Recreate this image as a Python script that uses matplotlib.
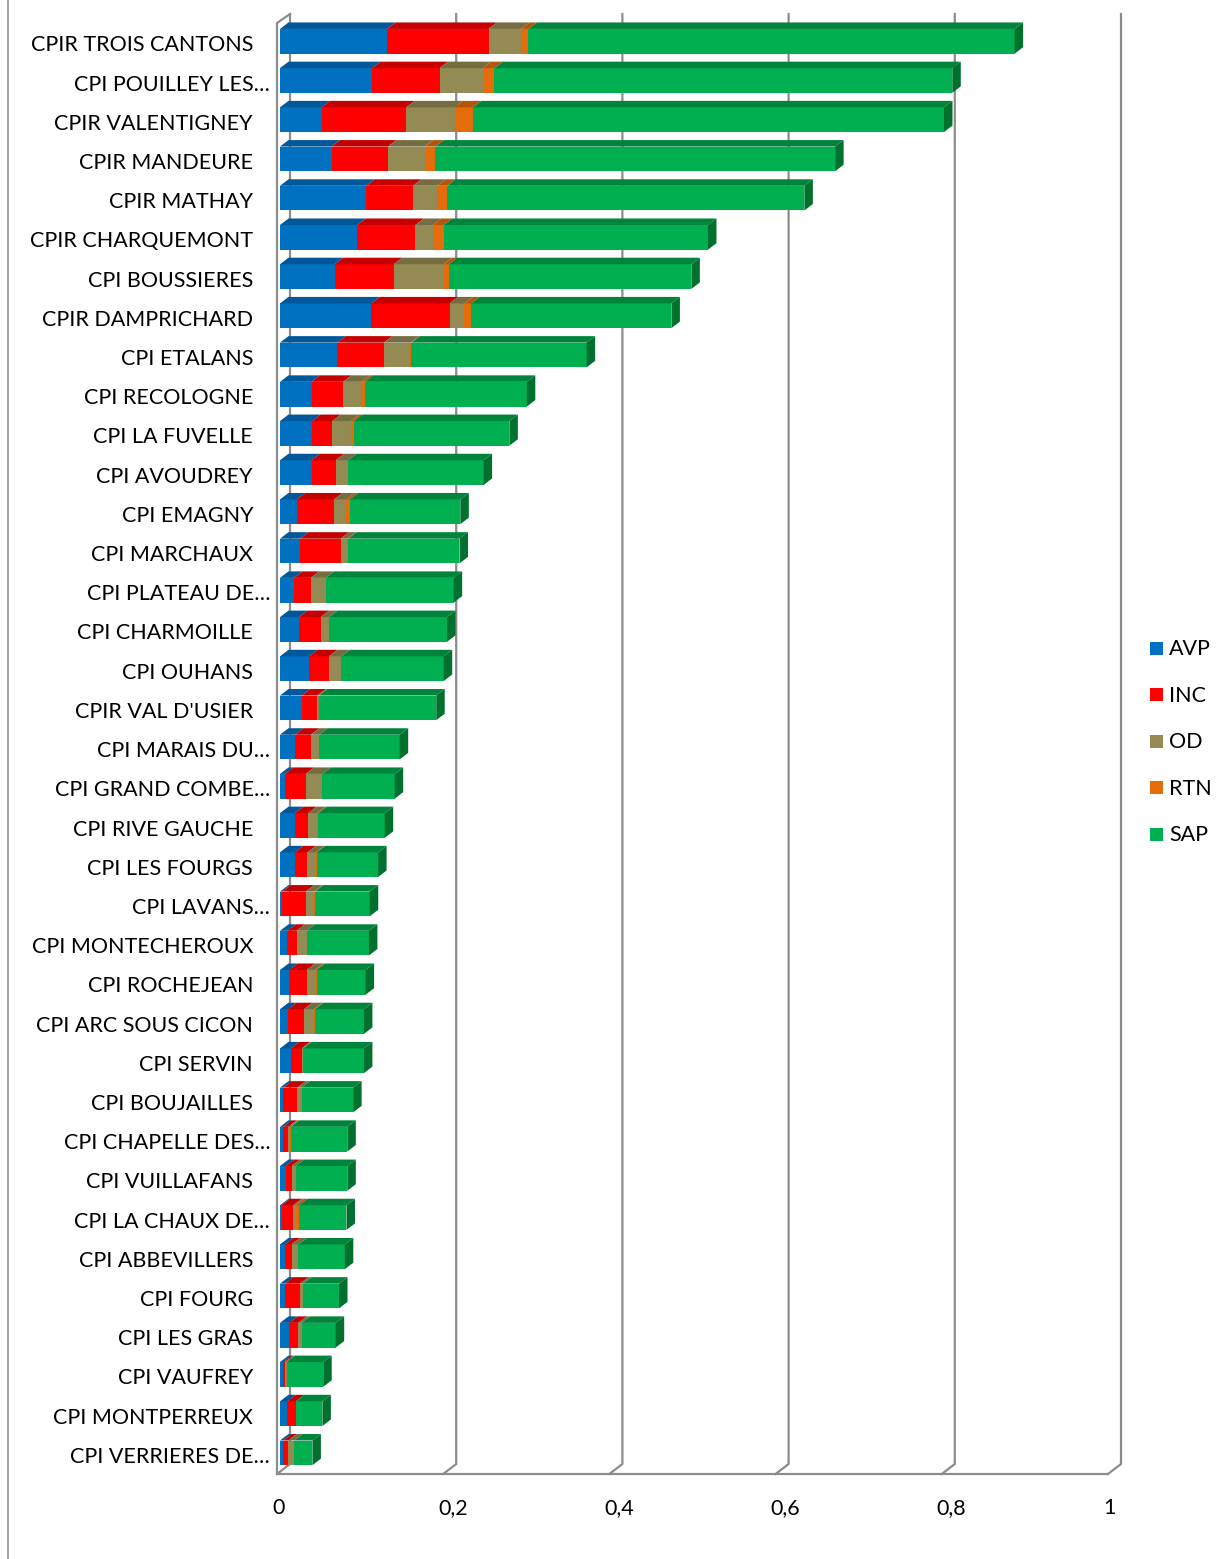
import matplotlib
matplotlib.use('Agg')
import matplotlib.pyplot as plt
from matplotlib.patches import Polygon, Rectangle
from matplotlib.lines import Line2D

plt.rcParams['font.family'] = ['Lato', 'DejaVu Sans']

categories = ["CPIR TROIS CANTONS", "CPI POUILLEY LES…", "CPIR VALENTIGNEY", "CPIR MANDEURE",
              "CPIR MATHAY", "CPIR CHARQUEMONT", "CPI BOUSSIERES", "CPIR DAMPRICHARD",
              "CPI ETALANS", "CPI RECOLOGNE", "CPI LA FUVELLE", "CPI AVOUDREY", "CPI EMAGNY",
              "CPI MARCHAUX", "CPI PLATEAU DE…", "CPI CHARMOILLE", "CPI OUHANS",
              "CPIR VAL D'USIER", "CPI MARAIS DU…", "CPI GRAND COMBE…", "CPI RIVE GAUCHE",
              "CPI LES FOURGS", "CPI LAVANS…", "CPI MONTECHEROUX", "CPI ROCHEJEAN",
              "CPI ARC SOUS CICON", "CPI SERVIN", "CPI BOUJAILLES", "CPI CHAPELLE DES…",
              "CPI VUILLAFANS", "CPI LA CHAUX DE…", "CPI ABBEVILLERS", "CPI FOURG",
              "CPI LES GRAS", "CPI VAUFREY", "CPI MONTPERREUX", "CPI VERRIERES DE…"]

avp = [0.129, 0.111, 0.050, 0.062, 0.104, 0.093, 0.066, 0.110, 0.069, 0.038, 0.039, 0.038, 0.020,
       0.024, 0.017, 0.023, 0.035, 0.026, 0.018, 0.006, 0.018, 0.018, 0.003, 0.009, 0.011, 0.010,
       0.013, 0.004, 0.004, 0.007, 0.002, 0.006, 0.006, 0.011, 0.004, 0.009, 0.004]
inc = [0.122, 0.081, 0.102, 0.068, 0.056, 0.070, 0.071, 0.094, 0.056, 0.038, 0.024, 0.029, 0.045,
       0.049, 0.020, 0.026, 0.024, 0.019, 0.019, 0.025, 0.016, 0.015, 0.028, 0.011, 0.021, 0.019,
       0.013, 0.017, 0.006, 0.007, 0.014, 0.008, 0.018, 0.011, 0.002, 0.010, 0.006]
od = [0.039, 0.052, 0.058, 0.044, 0.029, 0.021, 0.060, 0.018, 0.032, 0.022, 0.022, 0.015, 0.015,
      0.008, 0.018, 0.010, 0.015, 0.002, 0.010, 0.020, 0.010, 0.010, 0.010, 0.012, 0.010, 0.012,
      0.002, 0.005, 0.002, 0.005, 0.003, 0.008, 0.004, 0.004, 0.002, 0.000, 0.007]
rtn = [0.009, 0.014, 0.022, 0.013, 0.012, 0.013, 0.006, 0.008, 0.001, 0.004, 0.004, 0.000, 0.004,
       0.001, 0.000, 0.000, 0.000, 0.000, 0.000, 0.000, 0.002, 0.001, 0.001, 0.000, 0.002, 0.001,
       0.000, 0.000, 0.001, 0.000, 0.004, 0.000, 0.000, 0.000, 0.000, 0.000, 0.000]
sap = [0.585, 0.551, 0.567, 0.481, 0.430, 0.318, 0.292, 0.241, 0.211, 0.195, 0.187, 0.163, 0.133,
       0.134, 0.154, 0.142, 0.123, 0.141, 0.097, 0.087, 0.080, 0.074, 0.066, 0.075, 0.059, 0.059,
       0.073, 0.062, 0.068, 0.062, 0.057, 0.056, 0.043, 0.041, 0.044, 0.032, 0.022]

series = ['AVP', 'INC', 'OD', 'RTN', 'SAP']
values = [avp, inc, od, rtn, sap]
xticks = [0, 0.2, 0.4, 0.6, 0.8, 1]
xticklabels = ['0', '0,2', '0,4', '0,6', '0,8', '1']

# front / top / side shades of each series
front = ['#0070C0', '#FF0000', '#948A54', '#E46C0A', '#00B050']
top = ['#00589A', '#C40000', '#756C42', '#B45508', '#00843C']
side = ['#004C85', '#A80000', '#625A37', '#9A4907', '#00702F']

W, H = 1227, 1559
fig = plt.figure(figsize=(W / 100, H / 100), dpi=100)

n = len(categories)
# pixel geometry of the plot box
x0_px, scale_px = 280, 831
top_px, bottom_px = 13, 1474
first_px, pitch_px = 41.3, 39.21
px = 1 / scale_px
py = 1 / pitch_px
ylim_top = -(first_px - top_px) * py
ylim_bot = (n - 1) + (bottom_px - (first_px + (n - 1) * pitch_px)) * py

ax = fig.add_axes([x0_px / W, 1 - bottom_px / H, scale_px / W, (bottom_px - top_px) / H])
ax.set_xlim(0, 1)
ax.set_ylim(ylim_bot, ylim_top)
ax.axis('off')

def ypix(p):
    return ylim_top + (p - top_px) * py

# walls and gridlines
gc = '#8C8C8C'
glw = 1.6
y_back_top = ypix(14)
y_back_floor = ypix(1464)
for t in xticks:
    xb = t + 10 * px
    xf = t - 3 * px
    ax.add_line(Line2D([xb, xb, xf], [y_back_top, y_back_floor, ylim_bot],
                       color=gc, lw=glw, clip_on=False, zorder=0))
ax.add_line(Line2D([10 * px, -3 * px, -3 * px, 1 - 3 * px],
                   [y_back_top, ypix(23), ylim_bot, ylim_bot],
                   color=gc, lw=glw, clip_on=False, zorder=1))

# 3D stacked bars
bh = 0.63
ddx = 8.5 * px
ddy = 6.5 * py
ys = list(range(n))
left = [0.0] * n
for s in range(len(series)):
    vals = values[s]
    ax.barh(ys, vals, left=left, height=bh, color=front[s], edgecolor='none',
            zorder=3, clip_on=False)
    for i in ys:
        if vals[i] <= 0:
            continue
        a, b = left[i], left[i] + vals[i]
        yt = i - bh / 2
        ax.add_patch(Polygon([(a, yt), (b, yt), (b + ddx, yt - ddy), (a + ddx, yt - ddy)],
                             closed=True, facecolor=top[s], edgecolor='none',
                             zorder=3, clip_on=False))
    left = [left[i] + vals[i] for i in ys]

# side face at the end of every bar
for i in ys:
    e = left[i]
    yt, yb = i - bh / 2, i + bh / 2
    ax.add_patch(Polygon([(e, yt), (e + ddx, yt - ddy), (e + ddx, yb - ddy), (e, yb)],
                         closed=True, facecolor=side[4], edgecolor='none',
                         zorder=3, clip_on=False))

# category labels
for i, c in enumerate(categories):
    xr = (270 if c.endswith('…') else 253) - x0_px
    ax.text(xr * px, i + 4 * py, c, ha='right', va='center', fontsize=15.5, color='black')

# value axis labels
for t, lab in zip(xticks, xticklabels):
    ax.text(t - 8 * px, ypix(1508), lab, ha='left', va='center', fontsize=15.5,
            color='black', clip_on=False)

# legend
for k, name in enumerate(series):
    yc = 648 + k * 46.6
    fig.add_artist(Rectangle((1150 / W, 1 - (yc + 6.5) / H), 13 / W, 13 / H,
                             facecolor=front[k], edgecolor='none', transform=fig.transFigure))
    fig.text(1169 / W, 1 - (yc + 1) / H, name, ha='left', va='center', fontsize=15.5)

# chart border
fig.add_artist(Line2D([8 / W, 8 / W], [0, 1], color='#A6A6A6', lw=1.5,
                      transform=fig.transFigure))

fig.savefig('out.png', dpi=100)
